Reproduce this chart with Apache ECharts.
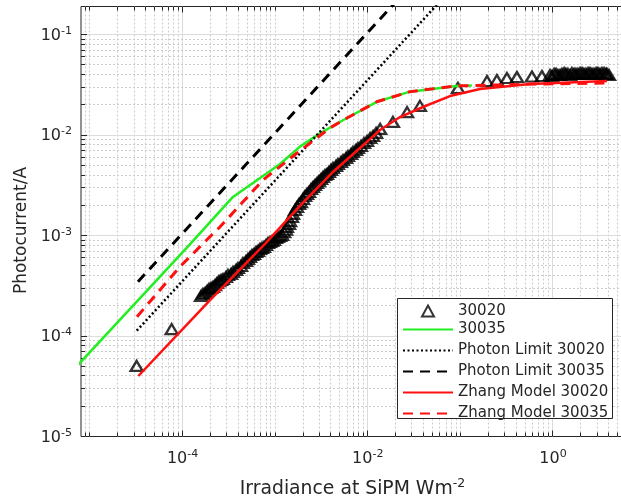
<!DOCTYPE html>
<html><head><meta charset="utf-8">
<script src="https://cdn.jsdelivr.net/npm/echarts@6/dist/echarts.min.js"></script>
<style>html,body{margin:0;padding:0;background:#fff}#c{width:621px;height:499px}</style>
</head><body><div id="c"></div>
<script>
// ---- data ----
const irr30020 = [3.19e-5, 7.62e-5, 1.58e-4, 1.75e-4, 1.93e-4, 2.13e-4, 2.35e-4, 2.60e-4, 2.94e-4, 3.33e-4, 3.78e-4, 4.28e-4, 4.84e-4, 5.35e-4, 5.90e-4, 6.52e-4, 7.21e-4, 7.96e-4, 8.79e-4, 9.70e-4, 1.07e-3, 1.19e-3, 1.31e-3, 1.41e-3, 1.52e-3, 1.64e-3, 1.81e-3, 2.00e-3, 2.21e-3, 2.44e-3, 2.69e-3, 2.97e-3, 3.28e-3, 3.63e-3, 4.01e-3, 4.54e-3, 5.14e-3, 5.82e-3, 6.59e-3, 7.46e-3, 8.45e-3, 9.82e-3, 1.14e-2, 1.36e-2, 1.87e-2, 2.66e-2, 3.66e-2, 9.42e-2, 0.194, 0.248, 0.318, 0.408, 0.593, 0.760, 0.929, 1.03, 1.13, 1.25, 1.38, 1.53, 1.69, 1.86, 2.06, 2.27, 2.51, 2.77, 3.06, 3.38, 3.74, 4.03,
  1.66e-4, 1.84e-4, 2.03e-4, 2.24e-4, 2.47e-4, 2.73e-4, 3.09e-4, 3.50e-4, 3.96e-4, 4.49e-4, 5.08e-4, 5.62e-4, 6.21e-4, 6.85e-4, 7.57e-4, 8.36e-4, 9.25e-4, 1.02e-3, 1.13e-3, 1.25e-3,
  1.34e-3, 1.45e-3, 1.56e-3, 1.72e-3,
  1.90e-3, 2.10e-3, 2.32e-3, 2.56e-3, 2.83e-3, 3.13e-3, 3.45e-3, 3.81e-3, 4.21e-3, 4.76e-3, 5.40e-3, 6.11e-3, 6.92e-3, 7.83e-3, 9.10e-3, 1.06e-2, 1.23e-2,
  0.975, 1.08, 1.19, 1.32, 1.45, 1.60, 1.77, 1.96, 2.16, 2.39, 2.64, 2.92, 3.22, 3.56, 3.83];
const cur30020 = [5.04e-5, 1.17e-4, 2.50e-4, 2.68e-4, 2.94e-4, 3.08e-4, 3.37e-4, 3.61e-4, 3.86e-4, 4.14e-4, 4.54e-4, 4.98e-4, 5.57e-4, 6.11e-4, 6.55e-4, 7.02e-4, 7.52e-4, 8.04e-4, 8.61e-4, 9.02e-4, 9.66e-4, 1.01e-3, 1.14e-3, 1.30e-3, 1.53e-3, 1.80e-3, 2.06e-3, 2.31e-3, 2.59e-3, 2.90e-3, 3.18e-3, 3.48e-3, 3.82e-3, 4.09e-3, 4.49e-3, 4.92e-3, 5.38e-3, 5.90e-3, 6.47e-3, 7.10e-3, 7.78e-3, 8.71e-3, 9.77e-3, 1.15e-2, 1.35e-2, 1.69e-2, 1.95e-2, 2.94e-2, 3.44e-2, 3.52e-2, 3.69e-2, 3.78e-2, 3.82e-2, 3.86e-2, 3.95e-2, 4.05e-2, 3.95e-2, 4.05e-2, 4.05e-2, 3.95e-2, 4.05e-2, 4.05e-2, 4.14e-2, 4.05e-2, 4.14e-2, 4.05e-2, 4.14e-2, 4.14e-2, 4.05e-2, 3.95e-2,
  2.62e-4, 2.81e-4, 3.01e-4, 3.21e-4, 3.52e-4, 3.69e-4, 4.05e-4, 4.34e-4, 4.75e-4, 5.32e-4, 5.83e-4, 6.40e-4, 6.86e-4, 7.35e-4, 7.69e-4, 8.41e-4, 8.81e-4, 9.44e-4, 9.89e-4, 1.08e-3,
  1.22e-3, 1.39e-3, 1.64e-3, 1.92e-3,
  2.15e-3, 2.47e-3, 2.71e-3, 3.04e-3, 3.33e-3, 3.65e-3, 4.00e-3, 4.29e-3, 4.70e-3, 5.14e-3, 5.64e-3, 6.18e-3, 6.78e-3, 7.43e-3, 8.32e-3, 9.33e-3, 1.05e-2,
  3.86e-2, 4.05e-2, 3.95e-2, 4.14e-2, 4.05e-2, 4.14e-2, 4.05e-2, 4.14e-2, 4.05e-2, 4.14e-2, 4.05e-2, 4.14e-2, 4.05e-2, 4.14e-2, 4.05e-2];

const irr30035 = [7e-6, 1.107e-4, 3.50e-4, 1.13e-3, 1.85e-3, 3.05e-3, 5.45e-3, 1.25e-2, 2.86e-2, 9.12e-2, 0.133];
const cur30035 = [4.85e-5, 7.52e-4, 2.42e-3, 5.14e-3, 7.66e-3, 1.04e-2, 1.41e-2, 2.14e-2, 2.70e-2, 3.08e-2, 3.11e-2];

const irrPhoton30020 = [3.2e-5, 0.1];
const curPhoton30020 = [1.13e-4, 0.354];
const irrPhoton30035 = [3.3e-5, 0.1];
const curPhoton30035 = [3.47e-4, 1.05];

const irrZhang30020 = [3.33e-5, 1.98e-4, 8.09e-4, 1.85e-3, 4.21e-3, 9.73e-3, 1.355e-2, 2.23e-2, 3.94e-2, 7.73e-2, 0.163, 0.565, 3.83];
const curZhang30020 = [4.00e-5, 2.28e-4, 8.61e-4, 1.97e-3, 4.29e-3, 8.51e-3, 1.122e-2, 1.51e-2, 1.90e-2, 2.44e-2, 2.87e-2, 3.21e-2, 3.44e-2];

const irrZhang30035 = [3.22e-5, 9.38e-5, 1.82e-4, 2.54e-4, 7.38e-4, 1.71e-3, 3.91e-3, 5.45e-3, 1.25e-2, 2.86e-2, 9.12e-2, 0.268, 0.565, 1.53, 3.83];
const curZhang30035 = [1.556e-4, 4.90e-4, 9.02e-4, 1.22e-3, 3.56e-3, 6.58e-3, 1.175e-2, 1.41e-2, 2.14e-2, 2.70e-2, 3.08e-2, 3.15e-2, 3.21e-2, 3.25e-2, 3.29e-2];

const seriesNames = ['30020', '30035', 'Photon Limit 30020', 'Photon Limit 30035', 'Zhang Model 30020', 'Zhang Model 30035'];
const xTickExponents = [-4, -2, 0];
const yTickExponents = [-5, -4, -3, -2, -1];
const xLimits = [8e-6, 5.85];
const yLimits = [1e-5, 0.19];

// ---- helpers ----
const FONT = 'DejaVu Sans';
const INK = '#262626';
const GREEN = '#22ee22';
const RED = '#ff1010';
const pairs = (xs, ys) => xs.map((x, i) => [x, ys[i]]);

function gridValues(lo, hi, majorExps) {
  const out = [];
  for (let k = -8; k <= 2; k++) {
    for (let m = 1; m <= 9; m++) {
      const v = m * Math.pow(10, k);
      if (v > lo * 1.0001 && v < hi * 0.9999) out.push([v, (m === 1 && majorExps.includes(k)) ? 1 : 0]);
    }
  }
  return out;
}
const xGrid = gridValues(xLimits[0], xLimits[1], xTickExponents);
const yGrid = gridValues(yLimits[0], yLimits[1], yTickExponents);

function labelFmt(exps) {
  return v => {
    const e = Math.log10(v);
    const r = Math.round(e);
    if (Math.abs(e - r) > 1e-6 || !exps.includes(r)) return '';
    return '{b|10}{s|' + r + '}';
  };
}
const tickRich = {
  b: {fontSize: 16, fontFamily: FONT, color: INK, lineHeight: 18, verticalAlign: 'bottom'},
  s: {fontSize: 11, fontFamily: FONT, color: INK, lineHeight: 11, verticalAlign: 'top'}
};
const legendText = {fontSize: 15, fontFamily: FONT, color: INK, lineHeight: 14};
const noSymbol = {color: 'rgba(0,0,0,0)', borderWidth: 0};

const crisp = v => Math.round(v - 0.5) + 0.5;

const chart = echarts.init(document.getElementById('c'), null, {renderer: 'canvas'});
chart.setOption({
  animation: false,
  backgroundColor: '#fff',
  grid: {left: 81, top: 6.5, width: 543, height: 430, show: true, borderColor: INK, borderWidth: 1, backgroundColor: '#fff',
         containLabel: false, outerBoundsMode: 'none'},
  xAxis: {
    type: 'log', logBase: 10, min: xLimits[0], max: xLimits[1],
    axisLine: {show: false}, axisTick: {show: false}, splitLine: {show: false},
    axisLabel: {formatter: labelFmt(xTickExponents), rich: tickRich, margin: 12, interval: 0, showMinLabel: true, showMaxLabel: true, hideOverlap: false},
    name: '{a|Irradiance at SiPM Wm}{s|-2}', nameLocation: 'middle', nameGap: 41,
    nameTextStyle: {rich: {
      a: {fontSize: 18.8, fontFamily: FONT, color: INK, lineHeight: 21, verticalAlign: 'bottom'},
      s: {fontSize: 12.5, fontFamily: FONT, color: INK, lineHeight: 12, verticalAlign: 'top'}
    }}
  },
  yAxis: {
    type: 'log', logBase: 10, min: yLimits[0], max: yLimits[1],
    axisLine: {show: false}, axisTick: {show: false}, splitLine: {show: false},
    axisLabel: {formatter: labelFmt(yTickExponents), rich: tickRich, margin: 9, interval: 0, showMinLabel: true, showMaxLabel: true, hideOverlap: false},
    name: 'Photocurrent/A', nameLocation: 'middle', nameGap: 41,
    nameTextStyle: {fontSize: 17, fontFamily: FONT, color: INK, padding: [0, 18, 0, 0]}
  },
  graphic: [{
    type: 'rect', z: 5, silent: true,
    shape: {x: 397.5, y: 298.5, width: 215, height: 120},
    style: {fill: '#fff', stroke: INK, lineWidth: 1}
  }],
  legend: [
    {
      data: [seriesNames[0]], left: 421, top: 303.5, z: 10, padding: 0,
      itemWidth: 12, itemHeight: 11, selectedMode: false,
      textStyle: Object.assign({}, legendText, {padding: [0, 0, 0, 19]})
    },
    {
      data: seriesNames.slice(1).map(n => ({name: n, itemStyle: noSymbol})),
      orient: 'vertical', left: 402, top: 322, z: 10, padding: 0,
      itemGap: 6, itemWidth: 50, itemHeight: 14, selectedMode: false,
      textStyle: legendText
    }
  ],
  series: [
    {
      type: 'custom', z: 1, silent: true,
      data: xGrid.map(g => [g[0], yLimits[0], g[1]]),
      encode: {x: 0, y: 1},
      renderItem: (params, api) => {
        const cs = params.coordSys;
        const x = crisp(api.coord([api.value(0), yLimits[0]])[0]);
        const major = api.value(2) === 1;
        const len = major ? 6 : 4;
        return {type: 'group', children: [
          {type: 'line', shape: {x1: x, y1: cs.y, x2: x, y2: cs.y + cs.height},
           style: {stroke: major ? '#dcdcdc' : '#cccccc', lineWidth: 1, lineDash: major ? null : [2, 2]}},
          {type: 'line', shape: {x1: x, y1: cs.y + cs.height, x2: x, y2: cs.y + cs.height - len}, style: {stroke: INK, lineWidth: 1}},
          {type: 'line', shape: {x1: x, y1: cs.y, x2: x, y2: cs.y + len}, style: {stroke: INK, lineWidth: 1}}
        ]};
      }
    },
    {
      type: 'custom', z: 1, silent: true,
      data: yGrid.map(g => [xLimits[0], g[0], g[1]]),
      encode: {x: 0, y: 1},
      renderItem: (params, api) => {
        const cs = params.coordSys;
        const y = crisp(api.coord([xLimits[0], api.value(1)])[1]);
        const major = api.value(2) === 1;
        const len = major ? 6 : 4;
        return {type: 'group', children: [
          {type: 'line', shape: {x1: cs.x, y1: y, x2: cs.x + cs.width, y2: y},
           style: {stroke: major ? '#dcdcdc' : '#cccccc', lineWidth: 1, lineDash: major ? null : [2, 2]}},
          {type: 'line', shape: {x1: cs.x, y1: y, x2: cs.x + len, y2: y}, style: {stroke: INK, lineWidth: 1}}
        ]};
      }
    },
    {
      name: seriesNames[0], type: 'scatter', data: pairs(irr30020, cur30020),
      symbol: 'triangle', symbolSize: [12, 10],
      itemStyle: {color: 'rgba(255,255,255,0)', borderColor: '#000', borderWidth: 2.3}
    },
    {
      name: seriesNames[1], type: 'line', data: pairs(irr30035, cur30035), symbol: 'none', showSymbol: false,
      lineStyle: {color: GREEN, width: 2.5}, itemStyle: {color: GREEN}
    },
    {
      name: seriesNames[2], type: 'line', data: pairs(irrPhoton30020, curPhoton30020), symbol: 'none', showSymbol: false,
      lineStyle: {color: '#000', width: 2.5, type: [2, 2.5]}, itemStyle: {color: '#000'}
    },
    {
      name: seriesNames[3], type: 'line', data: pairs(irrPhoton30035, curPhoton30035), symbol: 'none', showSymbol: false,
      lineStyle: {color: '#000', width: 3, type: [10, 7]}, itemStyle: {color: '#000'}
    },
    {
      name: seriesNames[4], type: 'line', data: pairs(irrZhang30020, curZhang30020), symbol: 'none', showSymbol: false,
      lineStyle: {color: RED, width: 2.5}, itemStyle: {color: RED}
    },
    {
      name: seriesNames[5], type: 'line', data: pairs(irrZhang30035, curZhang30035), symbol: 'none', showSymbol: false,
      lineStyle: {color: RED, width: 3, type: [10, 7]}, itemStyle: {color: RED}
    }
  ]
});
</script>
</body></html>
